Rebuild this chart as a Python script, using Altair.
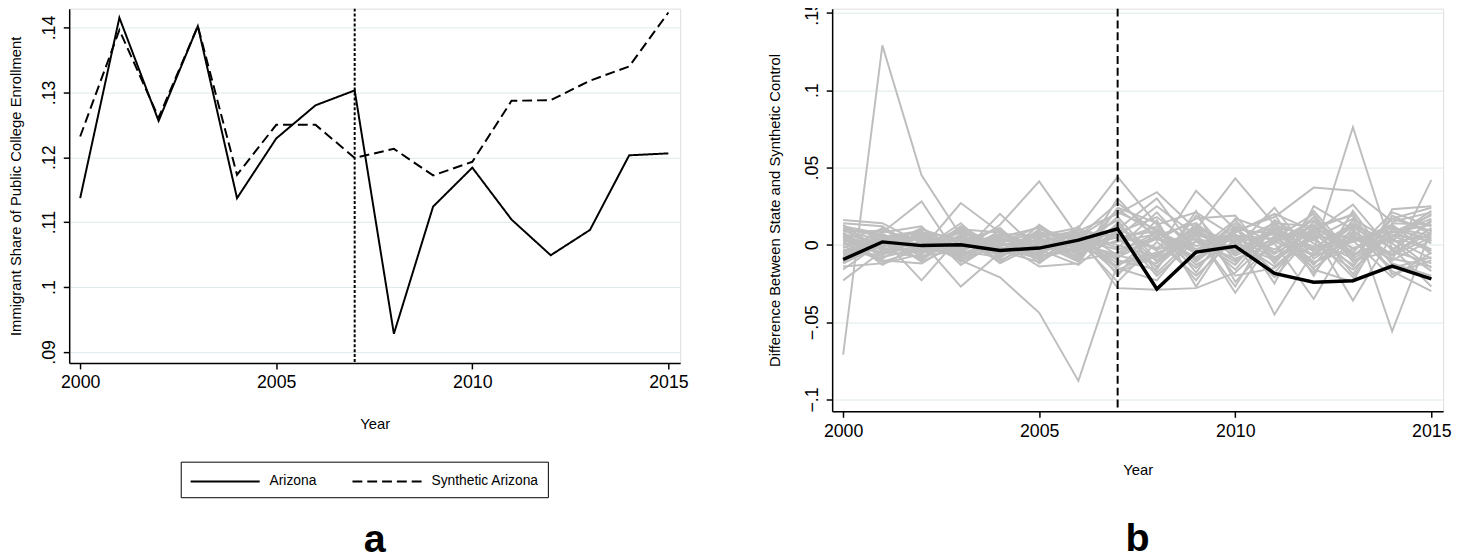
import altair as alt
import pandas as pd

# ---------------- data ----------------
years = list(range(2000, 2016))

arizona = [0.1137, 0.1415, 0.1256, 0.1402, 0.1137, 0.1229, 0.1280, 0.1303,
           0.0928, 0.1124, 0.1184, 0.1104, 0.1049, 0.1088, 0.1203, 0.1206]
synthetic_arizona = [0.1232, 0.1396, 0.1261, 0.1402, 0.1173, 0.1250, 0.1250, 0.1199,
                     0.1213, 0.1172, 0.1193, 0.1287, 0.1288, 0.1318, 0.1340, 0.1423]

arizona_gap = [-0.0095, 0.0019, -0.0005, 0.0000, -0.0036, -0.0021, 0.0030, 0.0104,
               -0.0286, -0.0047, -0.0009, -0.0185, -0.0242, -0.0232, -0.0137, -0.0220]

placebo_gaps = [
    [-0.071, 0.129, 0.045, 0.006, -0.004, 0.003, -0.002, 0.005, 0.009, -0.003, 0.006, 0.004, -0.007, 0.002, 0.011, 0.006],
    [0.004, -0.005, 0.002, -0.010, -0.021, -0.044, -0.088, -0.012, -0.005, 0.004, -0.011, 0.009, 0.003, -0.009, 0.006, -0.004],
    [0.009, 0.003, -0.007, -0.004, 0.013, 0.041, 0.005, 0.021, 0.010, -0.006, 0.012, 0.002, 0.016, -0.003, 0.008, 0.013],
    [0.012, 0.007, -0.004, 0.009, -0.003, 0.006, 0.011, 0.044, 0.013, 0.021, 0.005, -0.009, 0.010, 0.004, -0.006, 0.011],
    [-0.004, 0.002, 0.006, -0.006, 0.004, -0.002, 0.000, -0.006, 0.004, -0.009, 0.010, 0.007, -0.004, 0.076, -0.003, 0.015],
    [0.003, -0.006, 0.000, 0.010, -0.008, 0.004, -0.006, 0.013, -0.011, 0.006, 0.002, 0.014, 0.012, 0.019, -0.056, 0.010],
    [-0.006, 0.004, 0.008, -0.002, 0.006, 0.001, -0.004, 0.007, -0.002, 0.010, 0.043, 0.013, 0.004, 0.017, 0.002, 0.006],
    [0.006, -0.002, -0.005, 0.004, -0.006, 0.008, 0.003, -0.003, 0.005, -0.008, 0.006, -0.045, -0.004, 0.006, -0.010, 0.003],
    [-0.008, 0.005, 0.003, -0.007, 0.002, -0.006, 0.006, 0.000, -0.008, 0.012, -0.004, 0.003, -0.012, 0.005, -0.010, 0.042],
    [0.010, -0.004, -0.003, 0.027, 0.008, -0.004, 0.002, -0.008, 0.004, -0.003, 0.008, 0.020, 0.009, -0.006, 0.004, -0.009],
    [-0.002, 0.008, 0.028, -0.010, 0.005, 0.011, -0.005, 0.023, 0.006, 0.014, -0.006, 0.009, -0.007, 0.012, 0.003, 0.020],
    [0.005, -0.003, 0.002, -0.027, -0.005, 0.004, -0.008, 0.010, 0.030, -0.004, 0.016, -0.010, 0.006, 0.002, 0.013, -0.006],
    [-0.011, 0.004, -0.023, 0.006, -0.010, 0.002, 0.007, -0.016, -0.006, 0.008, -0.007, 0.004, 0.020, -0.011, 0.006, 0.017],
    [0.001, -0.009, 0.007, -0.006, 0.020, -0.004, 0.002, 0.016, -0.018, 0.006, 0.003, -0.014, 0.008, 0.026, -0.004, -0.012],
    [0.014, 0.012, -0.004, 0.005, -0.002, -0.009, 0.006, -0.028, -0.029, -0.028, -0.018, 0.006, -0.015, 0.004, 0.009, -0.003],
    [-0.005, 0.006, 0.004, -0.008, 0.003, 0.007, -0.006, 0.003, 0.012, -0.011, 0.009, 0.018, 0.037, 0.035, 0.015, 0.021],
    [0.008, -0.008, -0.002, 0.004, -0.011, 0.005, 0.009, 0.020, 0.034, 0.010, -0.004, 0.011, -0.003, 0.008, -0.007, 0.005],
    [-0.012, 0.003, 0.005, -0.003, 0.007, -0.008, -0.003, 0.012, -0.004, 0.035, 0.010, -0.006, 0.011, -0.002, 0.004, -0.015],
    [0.007, 0.001, -0.009, 0.011, -0.004, 0.003, -0.010, -0.005, 0.008, -0.005, 0.004, 0.011, 0.007, -0.036, 0.006, 0.003],
    [-0.003, -0.007, 0.010, 0.002, -0.007, 0.010, 0.004, -0.012, -0.008, 0.002, -0.009, 0.001, -0.035, 0.009, -0.006, 0.008],
    [0.016, 0.014, 0.001, -0.005, 0.009, -0.003, 0.005, 0.027, 0.008, -0.010, 0.006, -0.003, 0.013, -0.008, 0.017, 0.024],
    [-0.014, -0.012, -0.006, 0.012, -0.002, -0.007, 0.010, 0.004, -0.014, 0.008, -0.031, 0.005, -0.002, 0.014, -0.012, -0.020],
    [0.011, 0.005, 0.009, -0.011, 0.001, 0.012, -0.002, -0.009, 0.016, -0.027, 0.011, -0.008, 0.004, -0.013, 0.010, 0.004],
    [-0.001, -0.010, -0.012, 0.003, 0.010, -0.010, 0.008, 0.006, -0.003, 0.004, -0.002, 0.024, -0.009, 0.007, -0.015, -0.008],
    [0.004, 0.010, -0.001, 0.008, -0.012, 0.001, -0.011, 0.030, 0.003, 0.017, 0.019, -0.012, 0.015, -0.005, 0.021, 0.012],
    [-0.009, -0.001, 0.004, -0.002, 0.005, -0.005, 0.012, -0.020, 0.010, -0.013, 0.002, 0.007, -0.018, 0.011, -0.002, -0.027],
    [0.013, -0.004, -0.008, 0.006, -0.006, 0.009, -0.007, 0.009, -0.020, 0.003, -0.013, 0.016, 0.001, -0.016, 0.008, 0.019],
    [-0.007, 0.008, 0.012, -0.013, 0.003, -0.001, 0.001, -0.014, 0.006, -0.015, 0.007, -0.018, 0.010, 0.020, -0.019, -0.010],
    [0.002, -0.011, -0.003, 0.014, -0.009, 0.013, -0.004, 0.018, -0.010, 0.009, -0.005, 0.010, -0.011, -0.003, 0.012, 0.001],
    [-0.010, 0.006, -0.011, 0.001, 0.011, -0.012, 0.007, -0.002, 0.021, -0.006, 0.014, -0.005, 0.018, -0.010, -0.004, 0.016],
    [0.006, -0.006, 0.006, -0.009, -0.001, 0.005, -0.009, 0.014, -0.015, 0.019, -0.010, 0.002, -0.006, 0.013, 0.001, -0.017],
    [-0.016, 0.002, -0.002, 0.009, -0.004, -0.011, 0.003, -0.024, 0.002, -0.020, 0.004, -0.021, 0.008, -0.014, 0.017, 0.009],
    [0.009, 0.009, 0.003, -0.001, 0.007, 0.006, -0.001, 0.005, 0.025, 0.006, -0.016, 0.013, -0.013, 0.016, -0.009, -0.014],
    [-0.023, -0.004, 0.008, 0.004, -0.005, 0.000, 0.010, -0.007, -0.012, 0.011, 0.001, -0.010, 0.022, -0.007, 0.005, 0.022],
    [0.000, 0.004, -0.010, 0.007, 0.002, -0.014, -0.012, 0.024, 0.014, -0.018, 0.017, 0.008, -0.001, 0.003, -0.021, -0.005],
    [0.003, -0.002, 0.011, -0.004, -0.008, 0.008, 0.004, -0.018, -0.007, 0.013, -0.020, -0.015, 0.005, -0.021, 0.014, 0.013],
    [-0.005, 0.011, -0.006, 0.010, 0.008, -0.003, -0.013, 0.008, 0.018, -0.001, 0.008, 0.020, -0.020, 0.022, -0.013, -0.022],
    [0.007, -0.013, 0.000, -0.007, 0.000, 0.003, 0.005, -0.010, -0.016, 0.022, -0.024, 0.003, 0.012, -0.019, 0.019, 0.007],
    [-0.012, 0.000, 0.005, 0.003, -0.003, -0.007, -0.002, 0.002, 0.007, -0.023, 0.012, -0.025, 0.025, 0.010, -0.017, -0.030],
    [0.010, 0.006, -0.005, -0.003, 0.004, 0.002, 0.008, -0.015, -0.023, 0.007, -0.027, 0.015, -0.016, -0.024, 0.023, 0.025],
]

treatment_year = [2007]
series_names = ["Arizona", "Synthetic Arizona"]
x_ticks = [2000, 2005, 2010, 2015]
y_ticks_a = [0.09, 0.10, 0.11, 0.12, 0.13, 0.14]
y_ticks_b = [-0.10, -0.05, 0.0, 0.05, 0.10, 0.15]
y_title_a = "Immigrant Share of Public College Enrollment"
y_title_b = "Difference Between State and Synthetic Control"
x_title = "Year"
panel_labels = ["a", "b"]

# ---------------- tables ----------------
df_a = pd.DataFrame({
    "year": years * 2,
    "value": arizona + synthetic_arizona,
    "series": [series_names[0]] * len(years) + [series_names[1]] * len(years),
})
rows = []
for i, gaps in enumerate(placebo_gaps):
    for yr, v in zip(years, gaps):
        rows.append({"state": f"s{i}", "year": yr, "value": v})
df_placebo = pd.DataFrame(rows)
df_az_gap = pd.DataFrame({"year": years, "value": arizona_gap})
df_rule = pd.DataFrame({"year": treatment_year})

FONT = "Liberation Sans"
LABEL_EXPR = "replace(format(datum.value, ''), '0.', '.')"


def x_enc(title_pad):
    return alt.X(
        "year:Q",
        scale=alt.Scale(domain=[1999.72, 2015.3], nice=False, zero=False),
        axis=alt.Axis(
            values=x_ticks, format="d", grid=False,
            labelFont=FONT, labelFontSize=18, labelColor="black", labelPadding=5,
            tickSize=6, tickWidth=1.5, tickColor="black",
            domainColor="black", domainWidth=1.5,
            title=x_title, titleFont=FONT, titleFontSize=15, titleFontWeight="normal",
            titleColor="black", titlePadding=title_pad,
        ),
    )


def y_enc(domain, ticks, title, title_pad, label_pad):
    return alt.Y(
        "value:Q",
        scale=alt.Scale(domain=domain, nice=False, zero=False),
        axis=alt.Axis(
            values=ticks, labelExpr=LABEL_EXPR, labelAngle=270,
            labelAlign="center", labelBaseline="alphabetic",
            labelFont=FONT, labelFontSize=18, labelColor="black", labelPadding=label_pad,
            tickSize=6, tickWidth=1.5, tickColor="black",
            domainColor="black", domainWidth=1.5,
            grid=True, gridColor="#dde9ec", gridWidth=1,
            title=title, titleFont=FONT, titleFontSize=15, titleFontWeight="normal",
            titleColor="black", titlePadding=title_pad,
        ),
    )


# ---------------- panel a ----------------
xa = x_enc(25)
ya = y_enc([0.0883, 0.1429], y_ticks_a, y_title_a, 17, 9)

lines_a = alt.Chart(df_a).mark_line(color="black", strokeWidth=2, clip=True).encode(
    x=xa, y=ya,
    strokeDash=alt.StrokeDash(
        "series:N",
        scale=alt.Scale(domain=series_names, range=[[1, 0], [10, 5]]),
        legend=alt.Legend(
            title=None, orient="none", legendX=113, legendY=459, direction="horizontal",
            strokeColor="black", fillColor="white", padding=9,
            symbolType="M-1,0H6", symbolSize=400, symbolStrokeWidth=2,
            symbolStrokeColor="black",
            labelFont=FONT, labelFontSize=14, labelColor="black", labelOffset=59,
            columnPadding=32,
        ),
    ),
)
rule_a = alt.Chart(df_rule).mark_rule(color="black", strokeWidth=2, strokeDash=[3, 2]).encode(x=xa)

panel_a = alt.layer(lines_a, rule_a).properties(
    width=619, height=359,
    title=alt.Title(panel_labels[0], orient="bottom", anchor="middle", frame="group",
                    font=FONT, fontSize=40, fontWeight="bold", color="black", offset=90),
)

# ---------------- panel b ----------------
xb = x_enc(23)
yb = y_enc([-0.1077, 0.15275], y_ticks_b, y_title_b, 21, 9)

gray = alt.Chart(df_placebo).mark_line(color="#bebebe", strokeWidth=2, clip=True).encode(
    x=xb, y=yb, detail="state:N"
)
rule_b = alt.Chart(df_rule).mark_rule(color="black", strokeWidth=2, strokeDash=[8, 4]).encode(x=xb)
black = alt.Chart(df_az_gap).mark_line(color="black", strokeWidth=3.5, clip=True).encode(x=xb, y=yb)

panel_b = alt.layer(gray, rule_b, black).properties(
    width=619, height=408,
    title=alt.Title(panel_labels[1], orient="bottom", anchor="middle", frame="group",
                    font=FONT, fontSize=40, fontWeight="bold", color="black", offset=42),
)

chart = alt.hconcat(panel_a, panel_b, spacing=79).properties(
    padding={"left": 0, "top": -12, "right": 0, "bottom": 0}
).configure_view(stroke=None).configure(background="white")

chart.save("out.html", embed_options={"renderer": "svg", "actions": False})
